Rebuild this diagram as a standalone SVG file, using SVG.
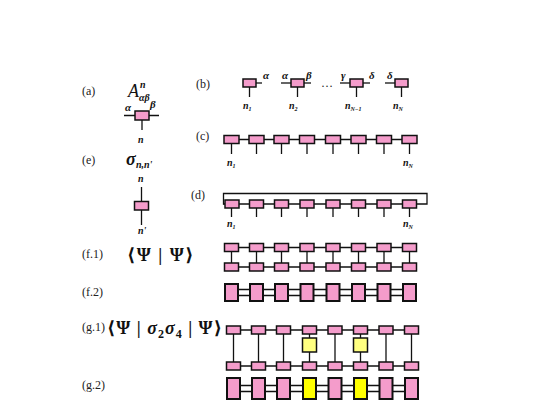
<svg xmlns="http://www.w3.org/2000/svg" width="556" height="417" viewBox="0 0 556 417">
<style>
.lbl{font-family:"Liberation Serif","DejaVu Serif",serif;font-size:12px;fill:#222}
.gr{font-family:"Liberation Serif","DejaVu Serif",serif;font-style:italic;font-weight:bold;font-size:11px;fill:#111}
.nl{font-family:"Liberation Serif","DejaVu Serif",serif;font-style:italic;font-weight:bold;font-size:10px;fill:#111}
.big{font-family:"Liberation Serif","DejaVu Serif",serif;font-weight:bold;font-size:18px;fill:#111}
.bx{fill:#F49CCB;stroke:#111;stroke-width:1.5}
.bt{fill:#F49CCB;stroke:#111;stroke-width:2}
.yl{fill:#FFFF80;stroke:#111;stroke-width:1.5}
.yt{fill:#FFFF00;stroke:#111;stroke-width:2}
.ln{stroke:#111;stroke-width:1.3;fill:none}
.lt{stroke:#111;stroke-width:1.6;fill:none}
</style>

<g id="labels">
<text class="lbl" x="82" y="95">(a)</text>
<text class="lbl" x="196" y="88">(b)</text>
<text class="lbl" x="196" y="140">(c)</text>
<text class="lbl" x="191" y="199">(d)</text>
<text class="lbl" x="82" y="164">(e)</text>
<text class="lbl" x="82" y="258">(f.1)</text>
<text class="lbl" x="82" y="296">(f.2)</text>
<text class="lbl" x="82" y="331">(g.1)</text>
<text class="lbl" x="82" y="389">(g.2)</text>
</g>

<g id="node-a">
<text x="128" y="97" style="font-family:'Liberation Serif','DejaVu Serif',serif;font-style:italic;font-size:18px;fill:#111">A</text>
<text class="nl" x="140" y="88" font-size="9">n</text>
<text class="nl" x="139" y="101" font-size="9">αβ</text>
<line class="ln" x1="124" y1="115.5" x2="159" y2="115.5"/>
<line class="ln" x1="142" y1="119" x2="142" y2="130"/>
<rect class="bx" x="135" y="111" width="14" height="9"/>
<text class="gr" x="125" y="111">α</text>
<text class="gr" x="150" y="108">β</text>
<text class="nl" x="138" y="143" font-size="9">n</text>
</g>

<g id="node-b">
<line class="ln" x1="256" y1="83" x2="262" y2="83"/>
<line class="ln" x1="249.5" y1="87" x2="249.5" y2="97"/>
<rect class="bx" x="243" y="79" width="13" height="8"/>
<text class="gr" x="263" y="79">α</text>
<text class="nl" x="243" y="109" font-size="9">n<tspan font-size="6" dy="2">1</tspan></text>

<line class="ln" x1="281" y1="83" x2="311" y2="83"/>
<line class="ln" x1="297.5" y1="87" x2="297.5" y2="97"/>
<rect class="bx" x="291" y="79" width="13" height="8"/>
<text class="gr" x="282" y="79">α</text>
<text class="gr" x="306" y="79">β</text>
<text class="nl" x="289" y="109" font-size="9">n<tspan font-size="6" dy="2">2</tspan></text>

<text class="lbl" x="321" y="87" font-size="10">…</text>

<line class="ln" x1="340" y1="83" x2="370" y2="83"/>
<line class="ln" x1="356.5" y1="87" x2="356.5" y2="97"/>
<rect class="bx" x="350" y="79" width="13" height="8"/>
<text class="gr" x="341" y="79">γ</text>
<text class="gr" x="369" y="79">δ</text>
<text class="nl" x="345" y="109" font-size="9">n<tspan font-size="6" dy="2">N−1</tspan></text>

<line class="ln" x1="385" y1="83" x2="395" y2="83"/>
<line class="ln" x1="401.5" y1="87" x2="401.5" y2="97"/>
<rect class="bx" x="395" y="79" width="13" height="8"/>
<text class="gr" x="387" y="79">δ</text>
<text class="nl" x="393" y="109" font-size="9">n<tspan font-size="6" dy="2">N</tspan></text>
</g>

<g id="node-c">
<line class="ln" x1="231" y1="139.5" x2="410" y2="139.5"/>
<g class="ln">
<line x1="231.5" y1="143" x2="231.5" y2="154"/><line x1="256.5" y1="143" x2="256.5" y2="154"/>
<line x1="281.5" y1="143" x2="281.5" y2="154"/><line x1="307" y1="143" x2="307" y2="154"/>
<line x1="333" y1="143" x2="333" y2="154"/><line x1="358.5" y1="143" x2="358.5" y2="154"/>
<line x1="384" y1="143" x2="384" y2="154"/><line x1="409.5" y1="143" x2="409.5" y2="154"/>
</g>
<rect class="bx" x="224" y="135.5" width="15" height="8"/>
<rect class="bx" x="249" y="135.5" width="15" height="8"/>
<rect class="bx" x="274" y="135.5" width="15" height="8"/>
<rect class="bx" x="299.5" y="135.5" width="15" height="8"/>
<rect class="bx" x="325.5" y="135.5" width="15" height="8"/>
<rect class="bx" x="351" y="135.5" width="15" height="8"/>
<rect class="bx" x="376.5" y="135.5" width="15" height="8"/>
<rect class="bx" x="402" y="135.5" width="15" height="8"/>
<text class="nl" x="227" y="166" font-size="9">n<tspan font-size="6" dy="2">1</tspan></text>
<text class="nl" x="403" y="166" font-size="9">n<tspan font-size="6" dy="2">N</tspan></text>
</g>

<g id="node-d">
<path class="ln" d="M224,204 H223.5 V193.5 H427 V204 H410"/>
<line class="ln" x1="223.5" y1="204" x2="410" y2="204"/>
<g class="ln">
<line x1="231.5" y1="208" x2="231.5" y2="217"/><line x1="256.5" y1="208" x2="256.5" y2="217"/>
<line x1="281.5" y1="208" x2="281.5" y2="217"/><line x1="307" y1="208" x2="307" y2="217"/>
<line x1="333" y1="208" x2="333" y2="217"/><line x1="358.5" y1="208" x2="358.5" y2="217"/>
<line x1="384" y1="208" x2="384" y2="217"/><line x1="409.5" y1="208" x2="409.5" y2="217"/>
</g>
<rect class="bx" x="225" y="200" width="14" height="8"/>
<rect class="bx" x="249.5" y="200" width="14" height="8"/>
<rect class="bx" x="274.5" y="200" width="14" height="8"/>
<rect class="bx" x="300" y="200" width="14" height="8"/>
<rect class="bx" x="326" y="200" width="14" height="8"/>
<rect class="bx" x="351.5" y="200" width="14" height="8"/>
<rect class="bx" x="377" y="200" width="14" height="8"/>
<rect class="bx" x="402.5" y="200" width="14" height="8"/>
<text class="nl" x="227" y="227" font-size="9">n<tspan font-size="6" dy="2">1</tspan></text>
<text class="nl" x="403" y="227" font-size="9">n<tspan font-size="6" dy="2">N</tspan></text>
</g>

<g id="node-e">
<text class="big" x="126" y="165" font-style="italic">σ</text>
<text class="nl" x="136" y="168" font-size="8">n,n'</text>
<text class="nl" x="138" y="182" font-size="9">n</text>
<line class="ln" x1="141.5" y1="187" x2="141.5" y2="225"/>
<rect class="bx" x="134.5" y="201.5" width="14" height="8.5"/>
<text class="nl" x="138" y="234" font-size="9">n'</text>
</g>

<g id="node-f1">
<text class="big" x="127" y="261" font-size="22" letter-spacing="1.5">⟨Ψ | Ψ⟩</text>
<line class="ln" x1="231" y1="247.5" x2="410" y2="247.5"/>
<line class="ln" x1="231" y1="267" x2="410" y2="267"/>
<g class="ln">
<line x1="231.5" y1="251" x2="231.5" y2="263"/><line x1="256.5" y1="251" x2="256.5" y2="263"/>
<line x1="281.5" y1="251" x2="281.5" y2="263"/><line x1="307" y1="251" x2="307" y2="263"/>
<line x1="333" y1="251" x2="333" y2="263"/><line x1="358.5" y1="251" x2="358.5" y2="263"/>
<line x1="384" y1="251" x2="384" y2="263"/><line x1="409.5" y1="251" x2="409.5" y2="263"/>
</g>
<rect class="bx" x="224.5" y="243.5" width="14" height="8"/>
<rect class="bx" x="249.5" y="243.5" width="14" height="8"/>
<rect class="bx" x="274.5" y="243.5" width="14" height="8"/>
<rect class="bx" x="300" y="243.5" width="14" height="8"/>
<rect class="bx" x="326" y="243.5" width="14" height="8"/>
<rect class="bx" x="351.5" y="243.5" width="14" height="8"/>
<rect class="bx" x="377" y="243.5" width="14" height="8"/>
<rect class="bx" x="402.5" y="243.5" width="14" height="8"/>
<rect class="bx" x="224.5" y="263" width="14" height="8"/>
<rect class="bx" x="249.5" y="263" width="14" height="8"/>
<rect class="bx" x="274.5" y="263" width="14" height="8"/>
<rect class="bx" x="300" y="263" width="14" height="8"/>
<rect class="bx" x="326" y="263" width="14" height="8"/>
<rect class="bx" x="351.5" y="263" width="14" height="8"/>
<rect class="bx" x="377" y="263" width="14" height="8"/>
<rect class="bx" x="402.5" y="263" width="14" height="8"/>
</g>

<g id="node-f2">
<line class="lt" x1="231" y1="289.5" x2="410" y2="289.5"/>
<line class="lt" x1="231" y1="295.5" x2="410" y2="295.5"/>
<rect class="bt" x="225" y="284" width="13" height="17"/>
<rect class="bt" x="250" y="284" width="13" height="17"/>
<rect class="bt" x="275" y="284" width="13" height="17"/>
<rect class="bt" x="300.5" y="284" width="13" height="17"/>
<rect class="bt" x="326.5" y="284" width="13" height="17"/>
<rect class="bt" x="352" y="284" width="13" height="17"/>
<rect class="bt" x="377.5" y="284" width="13" height="17"/>
<rect class="bt" x="403" y="284" width="13" height="17"/>
</g>

<g id="node-g1">
<text class="big" x="107" y="334" font-size="22" letter-spacing="1">⟨Ψ | <tspan font-style="italic">σ</tspan><tspan font-size="12" dy="4">2</tspan><tspan font-style="italic" dy="-4">σ</tspan><tspan font-size="12" dy="4">4</tspan><tspan dy="-4"> | Ψ⟩</tspan></text>
<line class="ln" x1="233" y1="330" x2="412" y2="330"/>
<line class="ln" x1="233" y1="366" x2="412" y2="366"/>
<g class="ln">
<line x1="233.5" y1="334" x2="233.5" y2="362"/><line x1="258.5" y1="334" x2="258.5" y2="362"/>
<line x1="283.5" y1="334" x2="283.5" y2="362"/><line x1="309.5" y1="334" x2="309.5" y2="362"/>
<line x1="335" y1="334" x2="335" y2="362"/><line x1="360.5" y1="334" x2="360.5" y2="362"/>
<line x1="386" y1="334" x2="386" y2="362"/><line x1="411.5" y1="334" x2="411.5" y2="362"/>
</g>
<rect class="bx" x="226.5" y="326" width="14" height="8"/>
<rect class="bx" x="251.5" y="326" width="14" height="8"/>
<rect class="bx" x="276.5" y="326" width="14" height="8"/>
<rect class="bx" x="302.5" y="326" width="14" height="8"/>
<rect class="bx" x="328" y="326" width="14" height="8"/>
<rect class="bx" x="353.5" y="326" width="14" height="8"/>
<rect class="bx" x="379" y="326" width="14" height="8"/>
<rect class="bx" x="404.5" y="326" width="14" height="8"/>
<rect class="yl" x="302.5" y="338" width="14" height="14"/>
<rect class="yl" x="353.5" y="338" width="14" height="14"/>
<rect class="bx" x="226.5" y="362" width="14" height="8"/>
<rect class="bx" x="251.5" y="362" width="14" height="8"/>
<rect class="bx" x="276.5" y="362" width="14" height="8"/>
<rect class="bx" x="302.5" y="362" width="14" height="8"/>
<rect class="bx" x="328" y="362" width="14" height="8"/>
<rect class="bx" x="353.5" y="362" width="14" height="8"/>
<rect class="bx" x="379" y="362" width="14" height="8"/>
<rect class="bx" x="404.5" y="362" width="14" height="8"/>
</g>

<g id="node-g2">
<line class="lt" x1="233" y1="385.5" x2="412" y2="385.5"/>
<line class="lt" x1="233" y1="391.5" x2="412" y2="391.5"/>
<rect class="bt" x="227" y="378" width="13" height="21"/>
<rect class="bt" x="252" y="378" width="13" height="21"/>
<rect class="bt" x="277" y="378" width="13" height="21"/>
<rect class="yt" x="303" y="378" width="13" height="21"/>
<rect class="bt" x="328.5" y="378" width="13" height="21"/>
<rect class="yt" x="354" y="378" width="13" height="21"/>
<rect class="bt" x="379.5" y="378" width="13" height="21"/>
<rect class="bt" x="405" y="378" width="13" height="21"/>
</g>
</svg>
